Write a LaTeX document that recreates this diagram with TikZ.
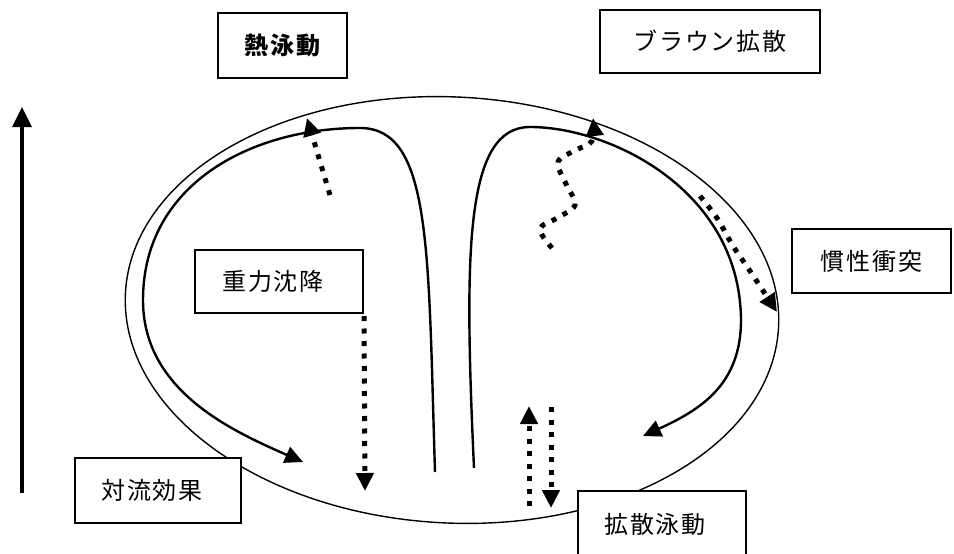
\documentclass[tikz,border=0pt]{standalone}
\usepackage{fontspec}
\newfontfamily\jp{Noto Sans CJK JP}[LetterSpace=8]
\usetikzlibrary{arrows.meta}
\tikzset{
  box/.style={draw=black, line width=2pt, fill=white, inner sep=0pt,
    font=\jp\fontsize{24pt}{28pt}\selectfont},
  stream/.style={line width=2.4pt, line join=round},
  dotline/.style={line width=5pt, dash pattern=on 5pt off 7.5pt},
  tip/.style={-{Triangle[width=17pt,length=18pt]}},
  shell/.style={line width=1.4pt},
}
\begin{document}
\begin{tikzpicture}[x=1pt,y=-1pt]
\useasboundingbox (0,0) rectangle (954,554);
% outer envelope
\coordinate (ctr) at (452,310);
\draw[shell, rotate around={-3:(ctr)}] (ctr) ellipse [x radius=327, y radius=213];
% streamlines
\draw[stream,tip] (435,472) .. controls (428,250) and (432,128) .. (360,128)
  .. controls (250,128) and (143,185) .. (143,300)
  .. controls (143,390) and (230,430) .. (303,462);
\draw[stream,tip] (474,468) .. controls (464,250) and (465,127) .. (530,127)
  .. controls (610,127) and (740,190) .. (741,320)
  .. controls (741,385) and (700,410) .. (643,436);
% labels
\node[box, minimum width=129pt, minimum height=65pt, line width=2.6pt, font=\jp\bfseries\fontsize{24pt}{28pt}\selectfont] (thermo) at (282.5,45.5) {熱泳動};
\node[box, minimum width=220pt, minimum height=63pt] (brown) at (710,41.5) {ブラウン拡散};
\node[box, minimum width=159pt, minimum height=64pt] (inertia) at (871.5,261) {慣性衝突};
\node[box, minimum width=168pt, minimum height=63pt] (grav) at (279,281.5) {\hspace*{-12pt}重力沈降};
\node[box, minimum width=166pt, minimum height=65pt] (conv) at (158,490.5) {\hspace*{-12pt}対流効果};
\node[box, minimum width=168pt, minimum height=66pt] (diffph) at (662,524) {\hspace*{-14pt}拡散泳動};
% coordinates for free ends
\coordinate (th0) at (330,195); \coordinate (th1) at (307,118);
\coordinate (gr1) at (365,491);
\coordinate (up0) at (529,506); \coordinate (up1) at (529,406);
\coordinate (dn0) at (551,407); \coordinate (dn1) at (551,508);
\coordinate (ax0) at (22,493); \coordinate (ax1) at (22,107);
% dotted arrows
\draw[dotline,tip] (th0) -- (th1);
\draw[dotline,tip] plot[smooth, tension=0.6] coordinates {
  (552,248) (540,229) (557,218) (575,205) (566,184) (558,162) (576,150) (592,141) (593,118)};
\draw[dotline,tip] plot[smooth, tension=0.5] coordinates {
  (700,196) (717,218) (733,246) (750,271) (777,312)};
\draw[dotline,tip] (grav.south east) ++(0,2) -- (gr1);
\draw[dotline,tip] (up0) -- (up1);
\draw[dotline,tip] (dn0) -- (dn1);
% vertical axis arrow
\draw[line width=3.2pt,-{Triangle[width=19pt,length=20pt]}] (ax0) -- (ax1);
\end{tikzpicture}
\end{document}
